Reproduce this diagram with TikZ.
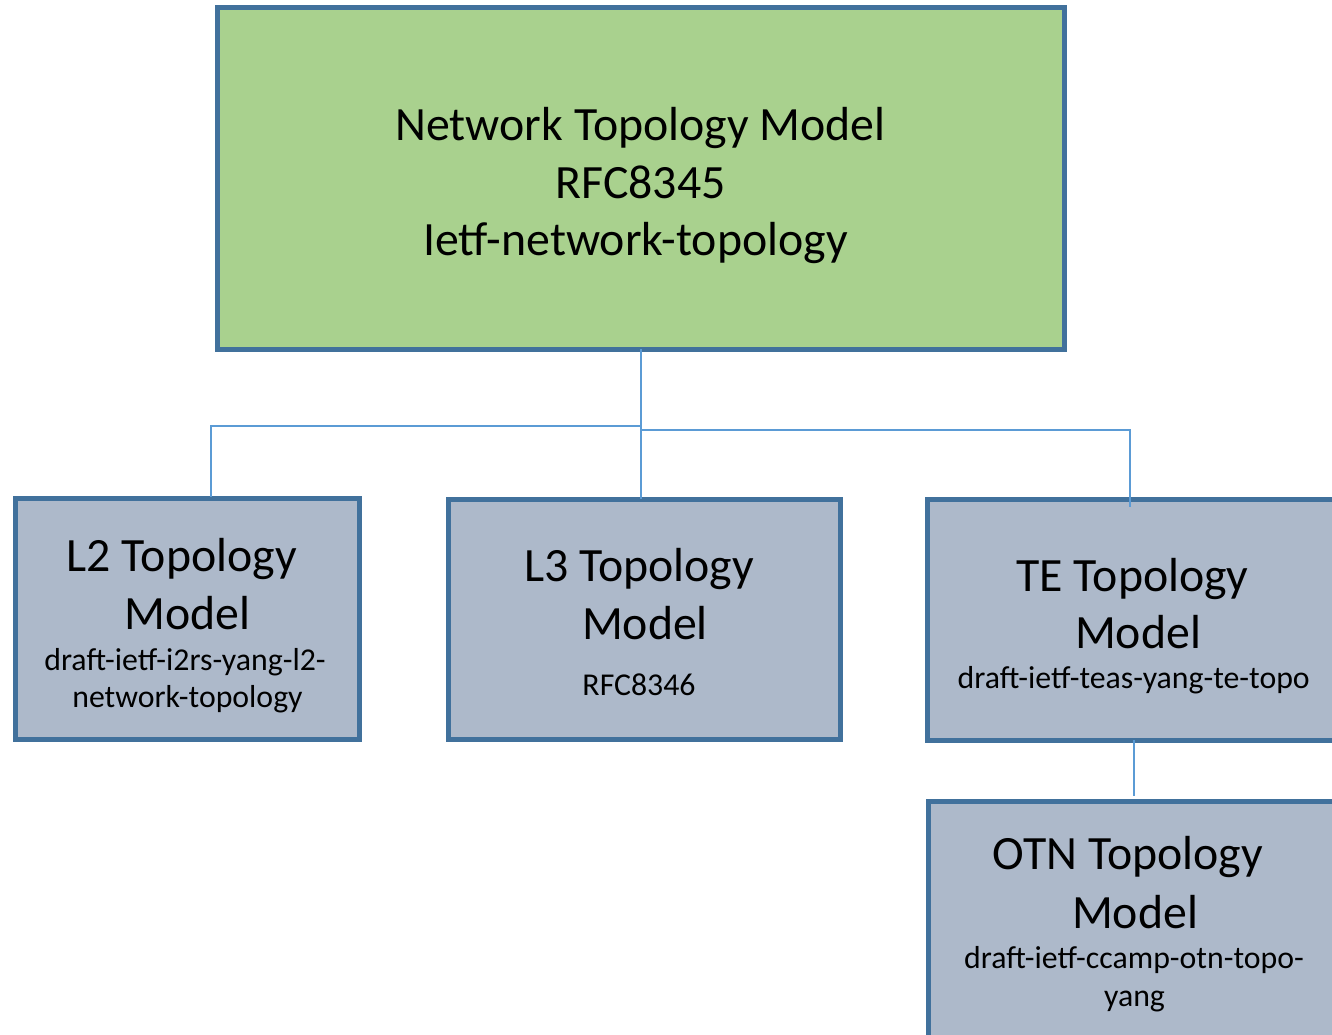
\documentclass[tikz,border=0pt]{standalone}
\usepackage{fontspec}
\setmainfont{Carlito}
\definecolor{rootfill}{HTML}{A9D18E}
\definecolor{boxfill}{HTML}{ADB9CA}
\definecolor{boxedge}{HTML}{41719C}
\definecolor{linkcol}{HTML}{5B9BD5}
\begin{document}
\begin{tikzpicture}[x=1pt,y=-1pt,
  modelbox/.style={rectangle,draw=boxedge,line width=5pt,fill=boxfill,inner sep=0pt,outer sep=0pt},
  rootbox/.style={modelbox,fill=rootfill},
  bigtxt/.style={anchor=base,inner sep=0pt,font=\fontsize{47.8}{56}\selectfont},
  smalltxt/.style={anchor=base,inner sep=0pt,font=\fontsize{31.8}{38}\selectfont},
  conn/.style={draw=linkcol,line width=2pt}]
\clip (0,0) rectangle (1332,1034);
\fill[white] (0,0) rectangle (1332,1034);

% model boxes
\node[rootbox,minimum width=846.5pt,minimum height=341.5pt] (root) at (640.75,178.25) {};
\node[modelbox,minimum width=344pt,minimum height=241pt] (l2) at (187,619) {};
\node[modelbox,minimum width=392.5pt,minimum height=240.5pt] (l3) at (644.25,619.25) {};
\node[modelbox,minimum width=412pt,minimum height=241pt] (te) at (1133.5,619.5) {};
\node[modelbox,minimum width=411pt,minimum height=241pt] (otn) at (1133.5,921.5) {};

% labels
\node[bigtxt] (root1) at (640.5,140) {Network Topology Model};
\node[bigtxt] (root2) at (640.5,198.5) {RFC8345};
\node[bigtxt] (root3) at (635.5,255.5) {Ietf-network-topology};

\node[bigtxt] (l2a) at (181.7,571.7) {L2 Topology};
\node[bigtxt] (l2b) at (187.5,629) {Model};
\node[smalltxt] (l2c) at (185,670) {draft-ietf-i2rs-yang-l2-};
\node[smalltxt] (l2d) at (187.5,707) {network-topology};

\node[bigtxt] (l3a) at (639,581.7) {L3 Topology};
\node[bigtxt] (l3b) at (645,639) {Model};
\node[smalltxt] (l3c) at (639,695) {RFC8346};

\node[bigtxt] (tea) at (1132.5,591.7) {TE Topology};
\node[bigtxt] (teb) at (1138,648) {Model};
\node[smalltxt] (tec) at (1133.7,688) {draft-ietf-teas-yang-te-topo};

\node[bigtxt] (otna) at (1128,869) {OTN Topology};
\node[bigtxt] (otnb) at (1135,928) {Model};
\node[smalltxt] (otnc) at (1134,968) {draft-ietf-ccamp-otn-topo-};
\node[smalltxt] (otnd) at (1134.5,1006) {yang};

% connectors
\coordinate (l2tap) at (211,497);
\coordinate (tetap) at (1130,507);
\draw[conn] (root.south) -- (root.south |- l3.north);
\draw[conn] (root.south |- 0,426) -| (l2tap);
\draw[conn] (root.south |- 0,429.5) -| (tetap);
\draw[conn] (te.south) -- ([yshift=5pt]otn.north);
\end{tikzpicture}
\end{document}
